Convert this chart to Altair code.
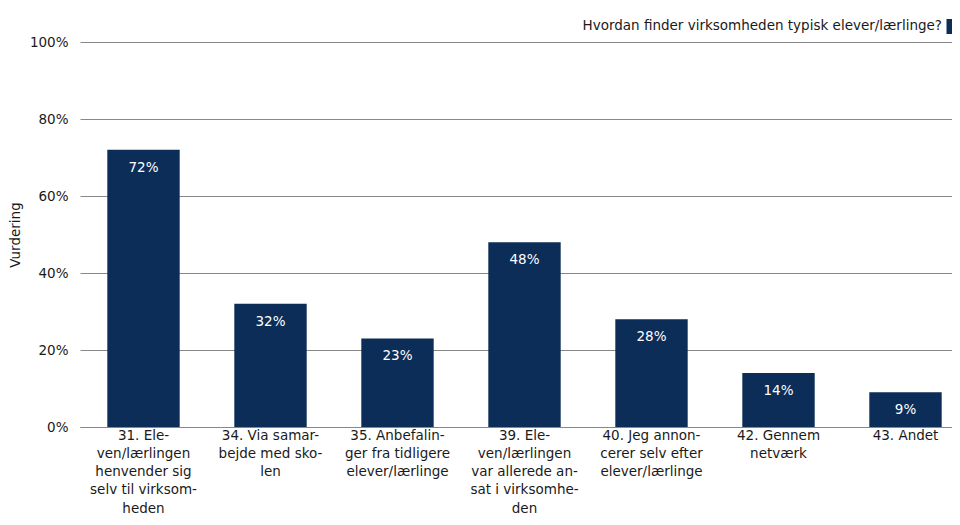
import altair as alt
import pandas as pd

categories = [
    "31. Ele-|ven/lærlingen|henvender sig|selv til virksom-|heden",
    "34. Via samar-|bejde med sko-|len",
    "35. Anbefalin-|ger fra tidligere|elever/lærlinge",
    "39. Ele-|ven/lærlingen|var allerede an-|sat i virksomhe-|den",
    "40. Jeg annon-|cerer selv efter|elever/lærlinge",
    "42. Gennem|netværk",
    "43. Andet",
]
values = [0.72, 0.32, 0.23, 0.48, 0.28, 0.14, 0.09]
series_name = "Hvordan finder virksomheden typisk elever/lærlinge?"
y_ticks = [0, 0.2, 0.4, 0.6, 0.8, 1.0]
y_title = "Vurdering"

df = pd.DataFrame({"kategori": categories, "andel": values})
legend_df = pd.DataFrame({"serie": [series_name]})

FONT = "DejaVu Sans"
FS = 13.5
COLOR = "#0c2d57"
TEXT = "#1a1a1a"

x_enc = alt.X(
    "kategori:N",
    sort=None,
    title=None,
    scale=alt.Scale(paddingInner=0.43, paddingOuter=0.215, range=[0, 889]),
    axis=alt.Axis(
        labelExpr="split(datum.label, '|')",
        labelAngle=0,
        ticks=False,
        domainColor="#888888",
        labelFontSize=FS,
        labelLineHeight=18.3,
        labelPadding=1,
        labelColor=TEXT,
        labelFont=FONT,
        labelBaseline="top",
    ),
)
y_enc = alt.Y(
    "andel:Q",
    scale=alt.Scale(domain=[0, 1]),
    axis=alt.Axis(
        values=y_ticks,
        format=".0%",
        title=y_title,
        titleFont=FONT,
        titleFontSize=FS,
        titleFontWeight="normal",
        titleColor=TEXT,
        titlePadding=7,
        labelFont=FONT,
        labelFontSize=FS,
        labelColor=TEXT,
        labelPadding=12,
        ticks=False,
        domain=False,
        gridColor="#888888",
        gridWidth=1,
    ),
)

base = alt.Chart(df).encode(x=x_enc, y=y_enc)
bars = base.mark_bar(color=COLOR)
labels = base.mark_text(color="white", dy=18, font=FONT, fontSize=FS, baseline="middle").encode(
    text=alt.Text("andel:Q", format=".0%")
)

legend_text = alt.Chart(legend_df).mark_text(
    align="right", baseline="middle", font=FONT, fontSize=FS, color=TEXT
).encode(text="serie:N", x=alt.value(862), y=alt.value(-16))
legend_sq = alt.Chart(legend_df).mark_square(color=COLOR, size=225, opacity=1).encode(
    x=alt.value(874), y=alt.value(-15.5)
)

chart = (
    alt.layer(bars, labels, legend_text, legend_sq)
    .properties(
        width=872,
        height=385,
        autosize=alt.AutoSizeParams(type="none"),
        padding={"left": 72, "top": 34, "right": 0, "bottom": 90},
    )
    .configure_view(stroke=None)
)

chart.save("out.html", embed_options={"renderer": "svg", "actions": False})
